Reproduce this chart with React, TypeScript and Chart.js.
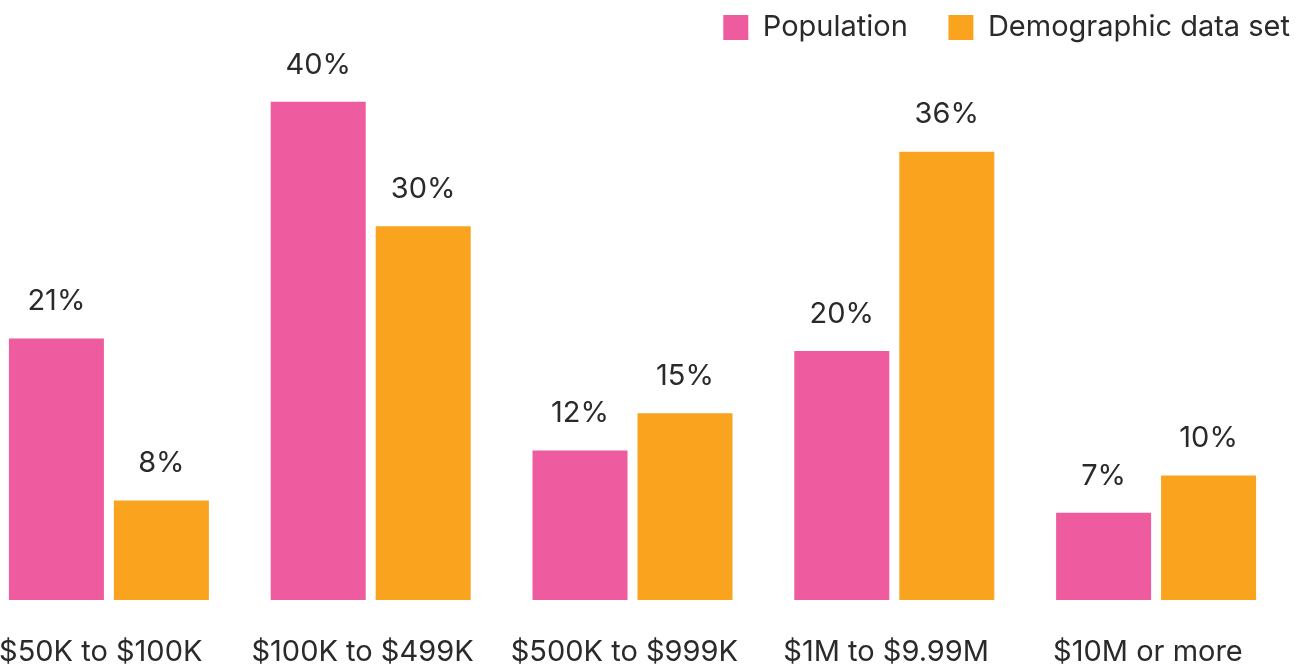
import React, { useEffect, useRef } from "react";
import { Chart, registerables } from "chart.js";

Chart.register(...registerables);

const categories = ["$50K to $100K", "$100K to $499K", "$500K to $999K", "$1M to $9.99M", "$10M or more"];
const populationValues = [21, 40, 12, 20, 7];
const demographicValues = [8, 30, 15, 36, 10];
const seriesNames = ["Population", "Demographic data set"];
const seriesColors = ["#EE5B9F", "#F9A31F"];
const yMax = 44;

const FONT = 'Inter, sans-serif';
const FONT_SIZE = 29;
const TEXT = "#2a2a2a";

const valueLabels = {
  id: "valueLabels",
  afterDatasetsDraw(chart: any) {
    const ctx = chart.ctx;
    ctx.save();
    ctx.font = `${FONT_SIZE}px ${FONT}`;
    ctx.fillStyle = TEXT;
    ctx.textAlign = "center";
    ctx.textBaseline = "middle";
    chart.data.datasets.forEach((ds: any, i: number) => {
      const meta = chart.getDatasetMeta(i);
      meta.data.forEach((el: any, j: number) => {
        ctx.fillText(`${ds.data[j]}%`, el.x, el.y - 37);
      });
    });
    ctx.restore();
  },
};

const legendTweak = {
  id: "legendTweak",
  beforeUpdate(chart: any) {
    const lg = chart.legend;
    if (lg && !lg.__patched) {
      const origFit = lg.fit;
      lg.fit = function () {
        origFit.call(this);
        this.height = 52;
      };
      const origDraw = lg.draw;
      lg.draw = function () {
        const ctx = this.ctx;
        ctx.save();
        ctx.translate(0, 5);
        origDraw.call(this);
        ctx.restore();
      };
      lg.__patched = true;
    }
  },
};

export default function App() {
  const ref = useRef<HTMLCanvasElement | null>(null);
  useEffect(() => {
    if (!ref.current) return;
    const chart = new Chart(ref.current, {
      type: "bar",
      data: {
        labels: categories,
        datasets: [
          {
            label: seriesNames[0],
            data: populationValues,
            backgroundColor: seriesColors[0],
            borderWidth: 0,
            categoryPercentage: 0.802,
            barPercentage: 0.905,
          },
          {
            label: seriesNames[1],
            data: demographicValues,
            backgroundColor: seriesColors[1],
            borderWidth: 0,
            categoryPercentage: 0.802,
            barPercentage: 0.905,
          },
        ],
      },
      options: {
        animation: false,
        responsive: true,
        maintainAspectRatio: false,
        layout: { padding: 0 },
        plugins: {
          tooltip: { enabled: false },
          legend: {
            display: true,
            position: "top",
            align: "end",
            labels: {
              boxWidth: 25,
              boxHeight: 25,
              padding: 8,
              color: TEXT,
              font: { family: FONT, size: FONT_SIZE },
              generateLabels: (c: any) => {
                const items = Chart.defaults.plugins.legend.labels.generateLabels(c);
                return items.map((it: any, i: number) => ({
                  ...it,
                  text: i < items.length - 1 ? it.text + "    " : it.text,
                }));
              },
            },
          },
        },
        scales: {
          x: {
            grid: { display: false, drawTicks: false },
            border: { display: false },
            ticks: {
              color: TEXT,
              font: { family: FONT, size: FONT_SIZE, lineHeight: 3.62 },
              padding: 0,
              maxRotation: 0,
              autoSkip: false,
              callback: (_v: any, i: number) => categories[i] + "  ",
            },
          },
          y: {
            position: "right",
            min: 0,
            max: yMax,
            grid: { display: false, drawTicks: false },
            border: { display: false },
            ticks: { display: false },
            afterFit: (s: any) => {
              s.width = 11;
            },
          },
        },
      },
      plugins: [valueLabels, legendTweak],
    });
    return () => chart.destroy();
  }, []);

  return (
    <div style={{ position: "fixed", left: -22, top: 0, width: 1320, height: 705, background: "#fff" }}>
      <canvas ref={ref} />
    </div>
  );
}
